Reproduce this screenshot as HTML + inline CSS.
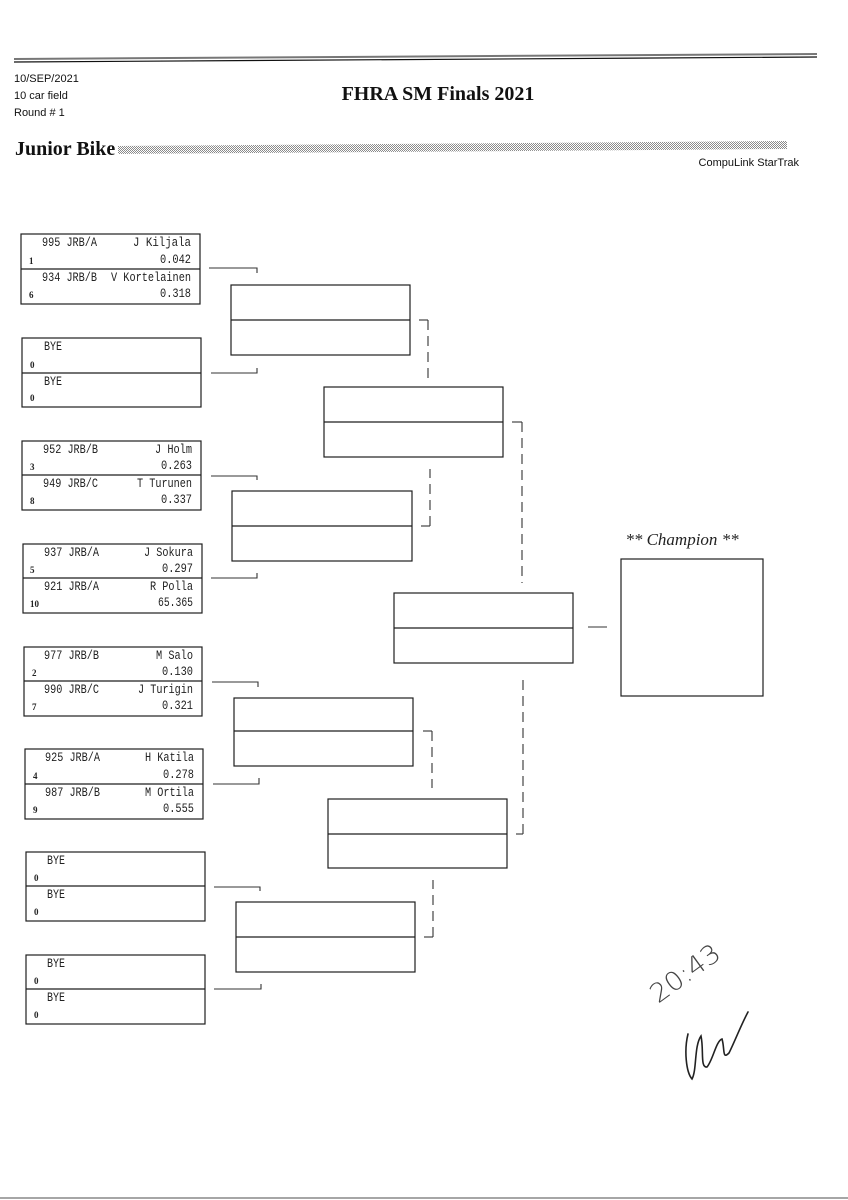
<!DOCTYPE html>
<html>
<head>
<meta charset="utf-8">
<style>
html,body{margin:0;padding:0;background:#fff;}
body{width:848px;height:1200px;overflow:hidden;}
svg{display:block;}
.m{font-family:"Liberation Mono",monospace;font-size:13px;fill:#222;}
.s{font-family:"Liberation Serif",serif;font-size:9px;fill:#222;font-weight:bold;}
.h{font-family:"Liberation Sans",sans-serif;font-size:11px;fill:#111;}
.b{fill:none;stroke:#1e1e1e;stroke-width:1.2;}
.c{fill:none;stroke:#333;stroke-width:1.1;}
.d{fill:none;stroke:#333;stroke-width:1.1;stroke-dasharray:10 6;}
</style>
</head>
<body>
<svg width="848" height="1200" viewBox="0 0 848 1200" xmlns="http://www.w3.org/2000/svg">
<defs>
<pattern id="dots" width="2" height="2" patternUnits="userSpaceOnUse">
<rect width="2" height="2" fill="#fff"/>
<rect width="1" height="1" fill="#8a8a8a"/>
<rect x="1" y="1" width="1" height="1" fill="#8a8a8a"/>
</pattern>
</defs>

<!-- header rules -->
<line x1="14" y1="59" x2="817" y2="54" stroke="#777" stroke-width="2"/>
<line x1="14" y1="62" x2="817" y2="57" stroke="#111" stroke-width="1.2"/>

<text class="h" x="14" y="82">10/SEP/2021</text>
<text class="h" x="14" y="99">10 car field</text>
<text class="h" x="14" y="116">Round # 1</text>

<text x="438" y="100" text-anchor="middle" font-family="'Liberation Serif',serif" font-weight="bold" font-size="20" fill="#111">FHRA SM Finals 2021</text>

<text x="15" y="155" font-family="'Liberation Serif',serif" font-weight="bold" font-size="20" fill="#111">Junior Bike</text>
<polygon points="118,146 787,141 787,149 118,154" fill="url(#dots)"/>

<text class="h" x="799" y="166" text-anchor="end">CompuLink StarTrak</text>

<!-- Round 1 boxes -->
<g>
<rect class="b" x="21" y="234" width="179" height="70"/><line class="b" x1="21" y1="269" x2="200" y2="269"/>
<rect class="b" x="22" y="338" width="179" height="69"/><line class="b" x1="22" y1="373" x2="201" y2="373"/>
<rect class="b" x="22" y="441" width="179" height="69"/><line class="b" x1="22" y1="475" x2="201" y2="475"/>
<rect class="b" x="23" y="544" width="179" height="69"/><line class="b" x1="23" y1="578" x2="202" y2="578"/>
<rect class="b" x="24" y="647" width="178" height="69"/><line class="b" x1="24" y1="681" x2="202" y2="681"/>
<rect class="b" x="25" y="749" width="178" height="70"/><line class="b" x1="25" y1="784" x2="203" y2="784"/>
<rect class="b" x="26" y="852" width="179" height="69"/><line class="b" x1="26" y1="886" x2="205" y2="886"/>
<rect class="b" x="26" y="955" width="179" height="69"/><line class="b" x1="26" y1="989" x2="205" y2="989"/>
</g>

<!-- Box 1 text -->
<text class="m" x="42" y="246" textLength="55" lengthAdjust="spacingAndGlyphs">995 JRB/A</text>
<text class="m" x="191" y="246" text-anchor="end" textLength="58" lengthAdjust="spacingAndGlyphs">J Kiljala</text>
<text class="m" x="191" y="263" text-anchor="end" textLength="31" lengthAdjust="spacingAndGlyphs">0.042</text>
<text class="s" x="29" y="264">1</text>
<text class="m" x="42" y="281" textLength="55" lengthAdjust="spacingAndGlyphs">934 JRB/B</text>
<text class="m" x="191" y="281" text-anchor="end" textLength="80" lengthAdjust="spacingAndGlyphs">V Kortelainen</text>
<text class="m" x="191" y="297" text-anchor="end" textLength="31" lengthAdjust="spacingAndGlyphs">0.318</text>
<text class="s" x="29" y="298">6</text>

<!-- Box 2 -->
<text class="m" x="44" y="350" textLength="18" lengthAdjust="spacingAndGlyphs">BYE</text>
<text class="s" x="30" y="368">0</text>
<text class="m" x="44" y="385" textLength="18" lengthAdjust="spacingAndGlyphs">BYE</text>
<text class="s" x="30" y="401">0</text>

<!-- Box 3 -->
<text class="m" x="43" y="453" textLength="55" lengthAdjust="spacingAndGlyphs">952 JRB/B</text>
<text class="m" x="192" y="453" text-anchor="end" textLength="37" lengthAdjust="spacingAndGlyphs">J Holm</text>
<text class="m" x="192" y="469" text-anchor="end" textLength="31" lengthAdjust="spacingAndGlyphs">0.263</text>
<text class="s" x="30" y="470">3</text>
<text class="m" x="43" y="487" textLength="55" lengthAdjust="spacingAndGlyphs">949 JRB/C</text>
<text class="m" x="192" y="487" text-anchor="end" textLength="55" lengthAdjust="spacingAndGlyphs">T Turunen</text>
<text class="m" x="192" y="503" text-anchor="end" textLength="31" lengthAdjust="spacingAndGlyphs">0.337</text>
<text class="s" x="30" y="504">8</text>

<!-- Box 4 -->
<text class="m" x="44" y="556" textLength="55" lengthAdjust="spacingAndGlyphs">937 JRB/A</text>
<text class="m" x="193" y="556" text-anchor="end" textLength="49" lengthAdjust="spacingAndGlyphs">J Sokura</text>
<text class="m" x="193" y="572" text-anchor="end" textLength="31" lengthAdjust="spacingAndGlyphs">0.297</text>
<text class="s" x="30" y="573">5</text>
<text class="m" x="44" y="590" textLength="55" lengthAdjust="spacingAndGlyphs">921 JRB/A</text>
<text class="m" x="193" y="590" text-anchor="end" textLength="43" lengthAdjust="spacingAndGlyphs">R Polla</text>
<text class="m" x="193" y="606" text-anchor="end" textLength="35" lengthAdjust="spacingAndGlyphs">65.365</text>
<text class="s" x="30" y="607">10</text>

<!-- Box 5 -->
<text class="m" x="44" y="659" textLength="55" lengthAdjust="spacingAndGlyphs">977 JRB/B</text>
<text class="m" x="193" y="659" text-anchor="end" textLength="37" lengthAdjust="spacingAndGlyphs">M Salo</text>
<text class="m" x="193" y="675" text-anchor="end" textLength="31" lengthAdjust="spacingAndGlyphs">0.130</text>
<text class="s" x="32" y="676">2</text>
<text class="m" x="44" y="693" textLength="55" lengthAdjust="spacingAndGlyphs">990 JRB/C</text>
<text class="m" x="193" y="693" text-anchor="end" textLength="55" lengthAdjust="spacingAndGlyphs">J Turigin</text>
<text class="m" x="193" y="709" text-anchor="end" textLength="31" lengthAdjust="spacingAndGlyphs">0.321</text>
<text class="s" x="32" y="710">7</text>

<!-- Box 6 -->
<text class="m" x="45" y="761" textLength="55" lengthAdjust="spacingAndGlyphs">925 JRB/A</text>
<text class="m" x="194" y="761" text-anchor="end" textLength="49" lengthAdjust="spacingAndGlyphs">H Katila</text>
<text class="m" x="194" y="778" text-anchor="end" textLength="31" lengthAdjust="spacingAndGlyphs">0.278</text>
<text class="s" x="33" y="779">4</text>
<text class="m" x="45" y="796" textLength="55" lengthAdjust="spacingAndGlyphs">987 JRB/B</text>
<text class="m" x="194" y="796" text-anchor="end" textLength="49" lengthAdjust="spacingAndGlyphs">M Ortila</text>
<text class="m" x="194" y="812" text-anchor="end" textLength="31" lengthAdjust="spacingAndGlyphs">0.555</text>
<text class="s" x="33" y="813">9</text>

<!-- Box 7 -->
<text class="m" x="47" y="864" textLength="18" lengthAdjust="spacingAndGlyphs">BYE</text>
<text class="s" x="34" y="881">0</text>
<text class="m" x="47" y="898" textLength="18" lengthAdjust="spacingAndGlyphs">BYE</text>
<text class="s" x="34" y="915">0</text>

<!-- Box 8 -->
<text class="m" x="47" y="967" textLength="18" lengthAdjust="spacingAndGlyphs">BYE</text>
<text class="s" x="34" y="984">0</text>
<text class="m" x="47" y="1001" textLength="18" lengthAdjust="spacingAndGlyphs">BYE</text>
<text class="s" x="34" y="1018">0</text>

<!-- Round 1 connectors -->
<polyline class="c" points="209,268 257,268 257,273"/>
<polyline class="c" points="211,373 257,373 257,368"/>
<polyline class="c" points="211,476 257,476 257,480"/>
<polyline class="c" points="211,578 257,578 257,573"/>
<polyline class="c" points="212,682 258,682 258,687"/>
<polyline class="c" points="213,784 259,784 259,778"/>
<polyline class="c" points="214,887 260,887 260,891"/>
<polyline class="c" points="214,989 261,989 261,984"/>

<!-- Round 2 boxes -->
<rect class="b" x="231" y="285" width="179" height="70"/><line class="b" x1="231" y1="320" x2="410" y2="320"/>
<rect class="b" x="232" y="491" width="180" height="70"/><line class="b" x1="232" y1="526" x2="412" y2="526"/>
<rect class="b" x="234" y="698" width="179" height="68"/><line class="b" x1="234" y1="731" x2="413" y2="731"/>
<rect class="b" x="236" y="902" width="179" height="70"/><line class="b" x1="236" y1="937" x2="415" y2="937"/>

<!-- Round 2 dashed connectors -->
<line class="c" x1="419" y1="320" x2="428" y2="320"/>
<line class="d" x1="428" y1="320" x2="428" y2="378"/>
<line class="d" x1="430" y1="526" x2="430" y2="469"/>
<line class="c" x1="421" y1="526" x2="430" y2="526"/>
<line class="c" x1="423" y1="731" x2="432" y2="731"/>
<line class="d" x1="432" y1="731" x2="432" y2="788"/>
<line class="d" x1="433" y1="937" x2="433" y2="880"/>
<line class="c" x1="424" y1="937" x2="433" y2="937"/>

<!-- Round 3 boxes -->
<rect class="b" x="324" y="387" width="179" height="70"/><line class="b" x1="324" y1="422" x2="503" y2="422"/>
<rect class="b" x="328" y="799" width="179" height="69"/><line class="b" x1="328" y1="834" x2="507" y2="834"/>

<!-- Round 3 dashed connectors -->
<line class="c" x1="512" y1="422" x2="522" y2="422"/>
<line class="d" x1="522" y1="422" x2="522" y2="583"/>
<line class="d" x1="523" y1="834" x2="523" y2="674"/>
<line class="c" x1="516" y1="834" x2="523" y2="834"/>

<!-- Final box -->
<rect class="b" x="394" y="593" width="179" height="70"/><line class="b" x1="394" y1="628" x2="573" y2="628"/>
<line class="c" x1="588" y1="627" x2="607" y2="627"/>

<!-- Champion -->
<text x="682" y="545" text-anchor="middle" font-family="'Liberation Serif',serif" font-style="italic" font-size="17" fill="#222">** Champion **</text>
<rect class="b" x="621" y="559" width="142" height="137"/>

<!-- handwriting -->
<text x="0" y="0" transform="translate(658,1004) rotate(-36)" font-family="'DejaVu Sans','Liberation Sans',sans-serif" font-weight="200" font-size="26" fill="#444" textLength="80" lengthAdjust="spacingAndGlyphs">20:43</text>
<path d="M688 1034 C684 1050 686 1072 692 1079 C697 1070 694 1046 701 1036 C704 1050 700 1068 707 1067 C713 1060 716 1041 722 1039 C725 1049 722 1060 729 1053 C735 1041 741 1025 748 1012" fill="none" stroke="#222" stroke-width="1.6" stroke-linecap="round"/>

<!-- bottom rule -->
<line x1="0" y1="1198" x2="848" y2="1198" stroke="#888" stroke-width="1.5"/>
</svg>
</body>
</html>
